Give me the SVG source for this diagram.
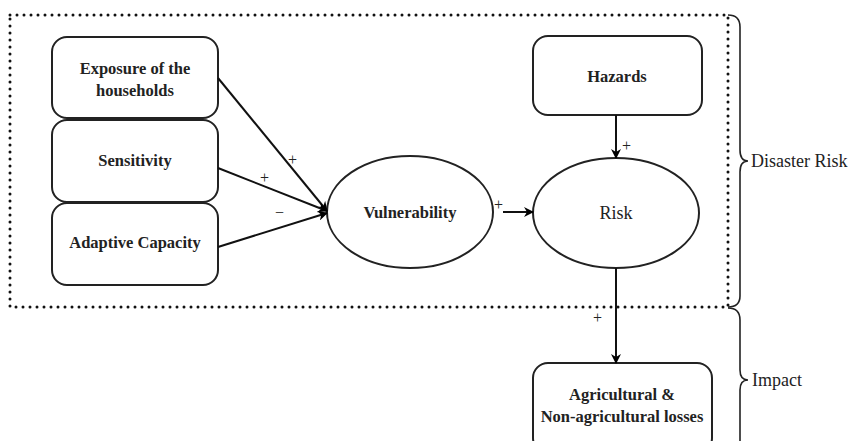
<svg xmlns="http://www.w3.org/2000/svg" width="849" height="441" viewBox="0 0 849 441">
<defs>
<marker id="ah" markerWidth="10" markerHeight="10" refX="9" refY="5" orient="auto" markerUnits="userSpaceOnUse">
<path d="M0,0 L10,5 L0,10 L3,5 Z" fill="#000"/>
</marker>
<style>
.box{fill:#fff;stroke:#222;stroke-width:2}
.t{font-family:"Liberation Serif","DejaVu Serif","Times New Roman",serif;font-weight:bold;font-size:16.5px;fill:#222;text-anchor:middle}
.s{font-family:"Liberation Serif","DejaVu Serif","Times New Roman",serif;font-size:18px;fill:#222}
.p{font-family:"Liberation Serif","DejaVu Serif","Times New Roman",serif;font-size:16px;fill:#222}
.c{stroke:#111;stroke-width:2;fill:none;marker-end:url(#ah)}
.dot{fill:none;stroke:#111;stroke-width:3;stroke-linecap:round;stroke-dasharray:0 7}
.br{fill:none;stroke:#222;stroke-width:1.6}
</style>
</defs>
<rect width="849" height="441" fill="#fff"/>
<g id="frame">
<rect class="dot" x="10" y="15" width="718" height="292"/>
</g>
<g id="brace-disaster">
<path class="br" d="M728,15 Q740,15 740,27 L740,150 Q740,161 748,161 Q740,161 740,172 L740,296 Q740,307 728,307"/>
<text class="s" x="751" y="167">Disaster Risk</text>
</g>
<g id="brace-impact">
<path class="br" d="M728,308 Q740,308 740,320 L740,370 Q740,380 748,380 Q740,380 740,390 L740,441"/>
<text class="s" x="752" y="386">Impact</text>
</g>
<g id="exposure">
<rect class="box" x="52" y="37" width="166" height="81" rx="15"/>
<text class="t" x="135" y="74">Exposure of the</text>
<text class="t" x="135" y="96">households</text>
</g>
<g id="sensitivity">
<rect class="box" x="52" y="120" width="166" height="82" rx="15"/>
<text class="t" x="135" y="166">Sensitivity</text>
</g>
<g id="adaptive">
<rect class="box" x="52" y="203" width="166" height="82" rx="15"/>
<text class="t" x="135" y="248">Adaptive Capacity</text>
</g>
<g id="vulnerability">
<ellipse class="box" cx="410" cy="212" rx="83" ry="56"/>
<text class="t" x="410" y="218">Vulnerability</text>
</g>
<g id="hazards">
<rect class="box" x="533" y="36" width="169" height="79" rx="15"/>
<text class="t" x="617" y="82">Hazards</text>
</g>
<g id="risk">
<ellipse class="box" cx="616" cy="213" rx="83" ry="55"/>
<text class="s" x="616" y="219" text-anchor="middle">Risk</text>
</g>
<g id="losses">
<rect class="box" x="533" y="363" width="179" height="90" rx="15"/>
<text class="t" x="622" y="400">Agricultural &amp;</text>
<text class="t" x="622" y="422">Non-agricultural losses</text>
</g>
<g id="connectors">
<line class="c" x1="218" y1="78" x2="327" y2="211"/>
<line class="c" x1="218" y1="168" x2="327" y2="211"/>
<line class="c" x1="218" y1="247" x2="327" y2="213"/>
<line class="c" x1="503" y1="212" x2="533" y2="212"/>
<line class="c" x1="616" y1="115" x2="616" y2="158"/>
<line class="c" x1="616" y1="268" x2="616" y2="363"/>
<text class="p" x="288" y="165">+</text>
<text class="p" x="260" y="183">+</text>
<text class="p" x="275" y="218">−</text>
<text class="p" x="494" y="210">+</text>
<text class="p" x="622" y="151">+</text>
<text class="p" x="593" y="323">+</text>
</g>
</svg>
